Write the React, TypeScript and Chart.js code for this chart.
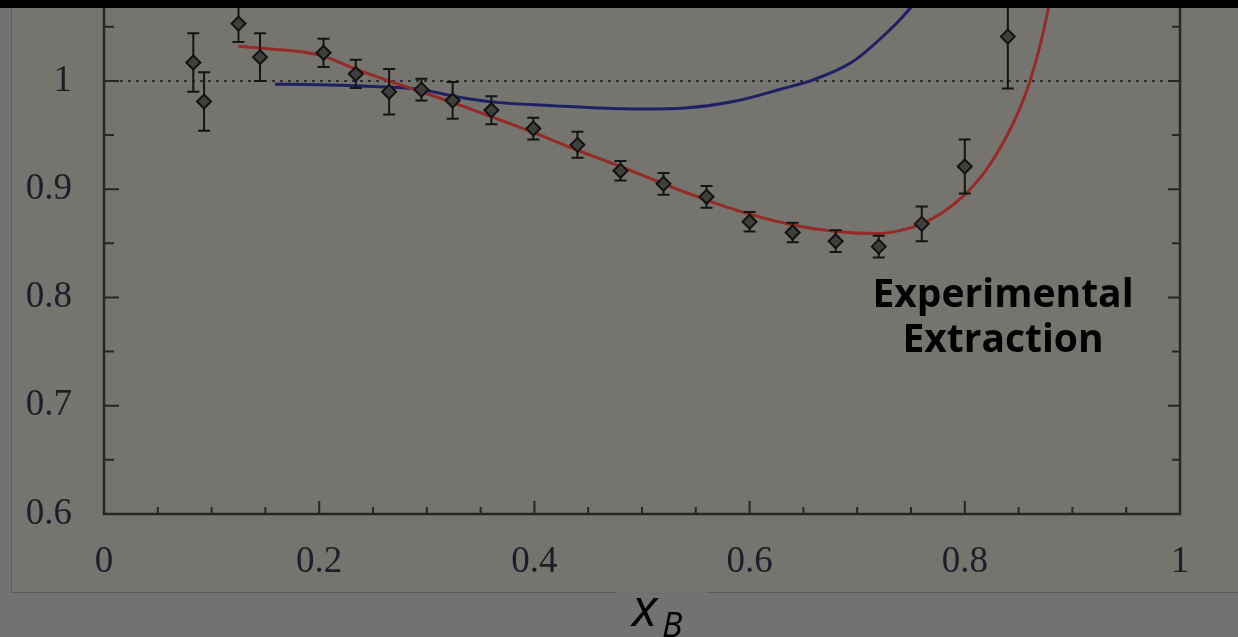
import { useEffect, useRef } from "react";
import { Chart, registerables } from "chart.js";

Chart.register(...registerables);

// Axis ticks
const X_TICKS = [0, 0.2, 0.4, 0.6, 0.8, 1];
const X_MINOR = [0.05, 0.1, 0.15, 0.25, 0.3, 0.35, 0.45, 0.5, 0.55, 0.65, 0.7, 0.75, 0.85, 0.9, 0.95];
const Y_TICKS = [0.6, 0.7, 0.8, 0.9, 1];
const Y_MINOR = [0.65, 0.75, 0.85, 0.95, 1.05];

// Measured ratio vs x_B with errors
const XB = [0.083, 0.093, 0.125, 0.145, 0.204, 0.234, 0.265, 0.295, 0.324, 0.36, 0.399, 0.44, 0.48, 0.52, 0.56, 0.6, 0.64, 0.68, 0.72, 0.76, 0.8, 0.84];
const RATIO = [1.017, 0.981, 1.053, 1.022, 1.026, 1.0065, 0.99, 0.992, 0.982, 0.973, 0.956, 0.941, 0.917, 0.905, 0.893, 0.87, 0.86, 0.852, 0.847, 0.868, 0.921, 1.041];
const ERR = [0.027, 0.027, 0.017, 0.022, 0.013, 0.013, 0.021, 0.01, 0.017, 0.013, 0.01, 0.012, 0.009, 0.01, 0.01, 0.009, 0.009, 0.01, 0.01, 0.016, 0.025, 0.048];

// Experimental extraction (red)
const EXTRACT_X = [0.125, 0.15, 0.2, 0.234, 0.265, 0.295, 0.33, 0.36, 0.4, 0.44, 0.48, 0.52, 0.56, 0.6, 0.64, 0.68, 0.72, 0.74, 0.76, 0.78, 0.8, 0.82, 0.84, 0.85, 0.86, 0.87, 0.88, 0.885];
const EXTRACT_Y = [1.032, 1.03, 1.024, 1.011, 1.0, 0.99, 0.978, 0.967, 0.952, 0.936, 0.921, 0.905, 0.89, 0.877, 0.867, 0.861, 0.859, 0.862, 0.868, 0.879, 0.895, 0.918, 0.951, 0.972, 0.998, 1.033, 1.078, 1.105];

// Model curve (blue)
const MODEL_X = [0.159, 0.2, 0.234, 0.291, 0.33, 0.368, 0.42, 0.46, 0.5, 0.54, 0.585, 0.631, 0.659, 0.696, 0.728, 0.749, 0.76];
const MODEL_Y = [0.997, 0.9965, 0.9955, 0.9925, 0.985, 0.98, 0.977, 0.975, 0.974, 0.975, 0.981, 0.993, 1.001, 1.018, 1.045, 1.067, 1.082];

const X_MIN = 0;
const X_MAX = 1;
const Y_MIN = 0.6;
const Y_MAX = 1.0748;

const INK = "#262626";
const LABEL_COLOR = "#1d1e2a";

const frameAndErrors = {
  id: "frameAndErrors",
  beforeDatasetDraw(chart: any, args: any) {
    if (args.index !== 0) return;
    const { ctx } = chart;
    const x = chart.scales.x;
    const y = chart.scales.y;
    ctx.save();
    ctx.strokeStyle = "#141414";
    ctx.lineWidth = 2;
    XB.forEach((xv, i) => {
      const px = x.getPixelForValue(xv);
      const top = y.getPixelForValue(RATIO[i] + ERR[i]);
      const bot = y.getPixelForValue(RATIO[i] - ERR[i]);
      ctx.beginPath();
      ctx.moveTo(px, top);
      ctx.lineTo(px, bot);
      ctx.moveTo(px - 6, top);
      ctx.lineTo(px + 6, top);
      ctx.moveTo(px - 6, bot);
      ctx.lineTo(px + 6, bot);
      ctx.stroke();
    });
    ctx.restore();
  },
  afterDraw(chart: any) {
    const { ctx, chartArea } = chart;
    const x = chart.scales.x;
    const y = chart.scales.y;
    const { left, right, top, bottom } = chartArea;
    ctx.save();
    ctx.strokeStyle = INK;
    ctx.lineWidth = 2.5;
    ctx.beginPath();
    ctx.moveTo(left, top);
    ctx.lineTo(left, bottom);
    ctx.lineTo(right, bottom);
    ctx.lineTo(right, top);
    ctx.stroke();

    ctx.lineWidth = 2;
    ctx.beginPath();
    X_TICKS.forEach((v) => {
      const px = x.getPixelForValue(v);
      ctx.moveTo(px, bottom);
      ctx.lineTo(px, bottom - 13);
    });
    X_MINOR.forEach((v) => {
      const px = x.getPixelForValue(v);
      ctx.moveTo(px, bottom);
      ctx.lineTo(px, bottom - 7);
    });
    Y_TICKS.forEach((v) => {
      const py = y.getPixelForValue(v);
      ctx.moveTo(left, py);
      ctx.lineTo(left + 15, py);
      ctx.moveTo(right, py);
      ctx.lineTo(right - 12, py);
    });
    Y_MINOR.forEach((v) => {
      const py = y.getPixelForValue(v);
      ctx.moveTo(left, py);
      ctx.lineTo(left + 10, py);
      ctx.moveTo(right, py);
      ctx.lineTo(right - 8, py);
    });
    ctx.stroke();
    ctx.restore();
  },
};

export default function App() {
  const canvasRef = useRef<HTMLCanvasElement | null>(null);

  useEffect(() => {
    document.body.style.margin = "0";
    const canvas = canvasRef.current;
    if (!canvas) return;

    const chart = new Chart(canvas, {
      type: "line",
      data: {
        datasets: [
          {
            label: "data",
            data: XB.map((v, i) => ({ x: v, y: RATIO[i] })),
            showLine: false,
            pointStyle: "rectRot",
            pointRadius: 7,
            pointBackgroundColor: "#3f3f3d",
            pointBorderColor: "#121212",
            pointBorderWidth: 2,
          },
          {
            label: "Experimental Extraction",
            data: EXTRACT_X.map((v, i) => ({ x: v, y: EXTRACT_Y[i] })),
            borderColor: "#962a26",
            borderWidth: 3,
            pointRadius: 0,
            cubicInterpolationMode: "monotone",
          },
          {
            label: "model",
            data: MODEL_X.map((v, i) => ({ x: v, y: MODEL_Y[i] })),
            borderColor: "#1f1f66",
            borderWidth: 3,
            pointRadius: 0,
            cubicInterpolationMode: "monotone",
          },
          {
            label: "unity",
            data: [
              { x: X_MIN, y: 1 },
              { x: X_MAX, y: 1 },
            ],
            borderColor: "#2e2e2e",
            borderWidth: 2,
            borderDash: [3, 5],
            pointRadius: 0,
          },
        ],
      },
      options: {
        animation: false,
        responsive: false,
        maintainAspectRatio: false,
        layout: { autoPadding: false, padding: { left: 0, right: 58, top: 0, bottom: 0 } },
        plugins: {
          legend: { display: false },
          tooltip: { enabled: false },
          title: { display: false },
        },
        scales: {
          x: {
            type: "linear",
            min: X_MIN,
            max: X_MAX,
            grid: { display: false, drawTicks: false },
            border: { display: false },
            afterBuildTicks: (s: any) => {
              s.ticks = X_TICKS.map((v) => ({ value: v }));
            },
            afterFit: (s: any) => {
              s.height = 123;
              s.paddingLeft = 0;
              s.paddingRight = 0;
              s.paddingTop = 0;
              s.paddingBottom = 0;
            },
            ticks: {
              autoSkip: false,
              maxRotation: 0,
              padding: 26,
              color: LABEL_COLOR,
              font: { family: "'Liberation Serif', serif", size: 37 },
              callback: (v: any) => String(v),
            },
          },
          y: {
            type: "linear",
            min: Y_MIN,
            max: Y_MAX,
            grid: { display: false, drawTicks: false },
            border: { display: false },
            afterBuildTicks: (s: any) => {
              s.ticks = Y_TICKS.map((v) => ({ value: v }));
            },
            afterFit: (s: any) => {
              s.width = 104;
              s.paddingLeft = 0;
              s.paddingRight = 0;
              s.paddingTop = 0;
              s.paddingBottom = 0;
            },
            ticks: {
              padding: 32,
              color: LABEL_COLOR,
              font: { family: "'Liberation Serif', serif", size: 37 },
              callback: (v: any) => String(v),
            },
          },
        },
      },
      plugins: [frameAndErrors],
    });

    return () => chart.destroy();
  }, []);

  return (
    <div
      style={{
        position: "fixed",
        left: 0,
        top: 0,
        width: 1238,
        height: 637,
        overflow: "hidden",
        background: "#727272",
      }}
    >
      <div
        style={{
          position: "absolute",
          left: 11,
          top: 0,
          width: 1240,
          height: 592,
          background: "#75746f",
          borderLeft: "1px solid #5d5d5d",
          borderBottom: "1px solid #5d5d5d",
        }}
      />
      <div
        style={{
          position: "absolute",
          left: 616,
          top: 591,
          width: 91,
          height: 46,
          background: "#727272",
        }}
      />
      <canvas
        ref={canvasRef}
        width={1238}
        height={637}
        style={{ position: "absolute", left: 0, top: 0, width: 1238, height: 637 }}
      />
      <div
        style={{
          position: "absolute",
          left: 803,
          top: 269,
          width: 400,
          textAlign: "center",
          fontFamily: "'Open Sans', sans-serif",
          fontWeight: 700,
          fontSize: 39,
          lineHeight: "45px",
          color: "#000",
        }}
      >
        Experimental
        <br />
        Extraction
      </div>
      <div
        style={{
          position: "absolute",
          left: 632,
          top: 579,
          fontFamily: "'Open Sans', sans-serif",
          fontStyle: "italic",
          fontSize: 53,
          lineHeight: "53px",
          color: "#000",
          whiteSpace: "nowrap",
        }}
      >
        x
      </div>
      <div
        style={{
          position: "absolute",
          left: 662,
          top: 607,
          fontFamily: "'Open Sans', sans-serif",
          fontStyle: "italic",
          fontSize: 34,
          lineHeight: "34px",
          color: "#000",
          whiteSpace: "nowrap",
        }}
      >
        B
      </div>
      <div
        style={{
          position: "absolute",
          left: 0,
          top: 0,
          width: 1238,
          height: 8,
          background: "#000",
        }}
      />
    </div>
  );
}
